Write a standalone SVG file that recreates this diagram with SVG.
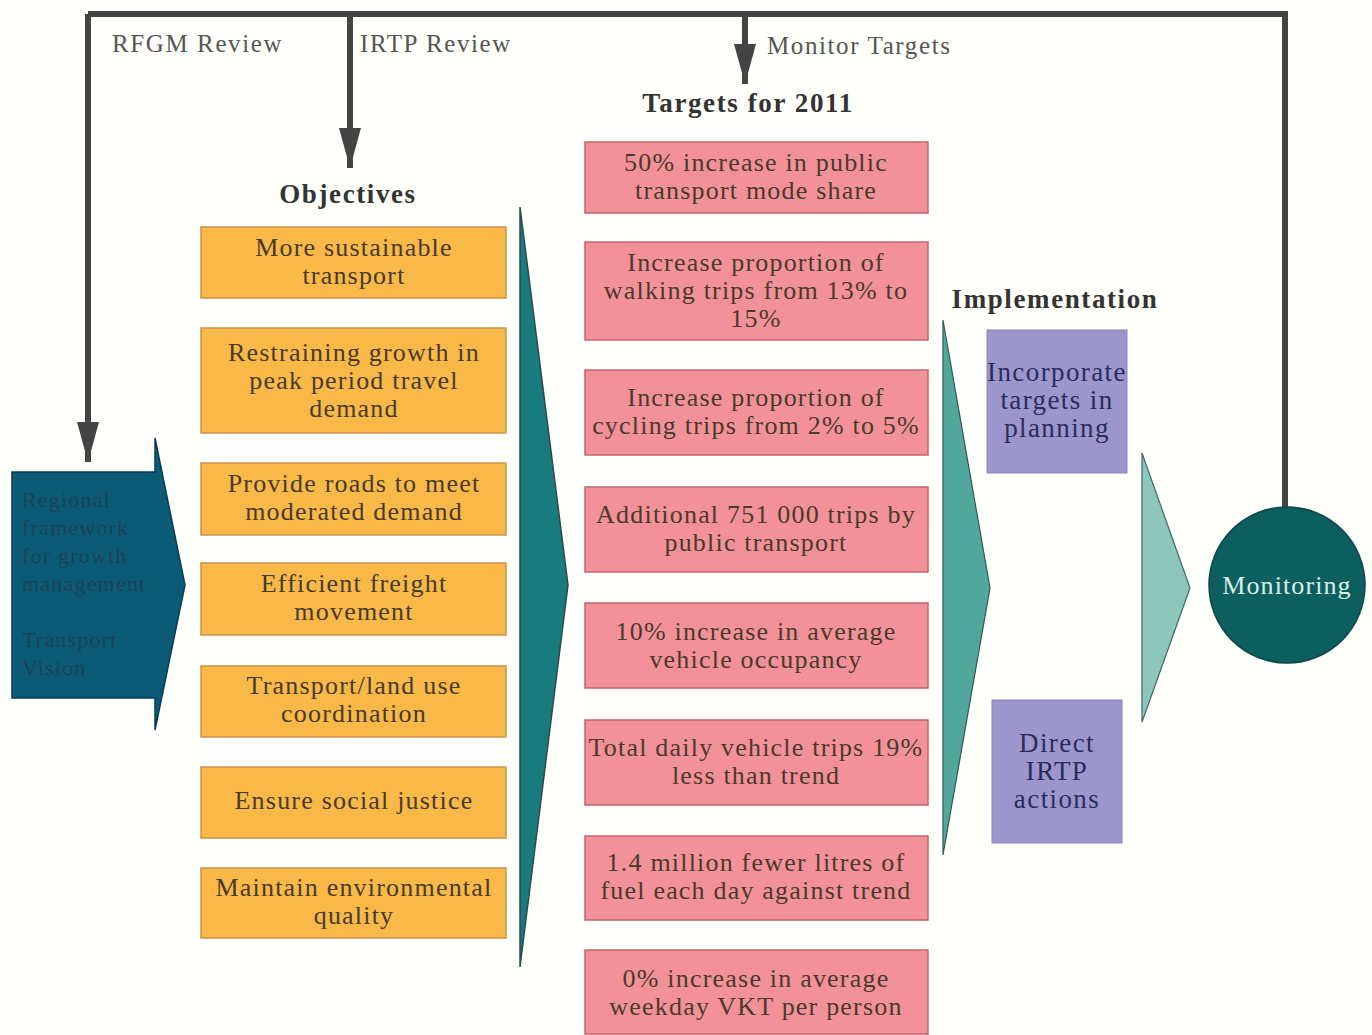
<svg xmlns="http://www.w3.org/2000/svg" width="1372" height="1035" viewBox="0 0 1372 1035">
<defs>
<style>
text{font-family:"Liberation Serif","DejaVu Serif",serif;}
.lbl{font-size:25px;fill:#555;letter-spacing:1.6px;}
.hd{font-size:27px;font-weight:bold;fill:#333;text-anchor:middle;letter-spacing:1.6px;}
.t{font-size:26px;fill:#4a3a2a;text-anchor:middle;letter-spacing:1.2px;}
.obj{fill:#f8b948;stroke:#c9924c;stroke-width:1.5;}
.tgt{fill:#f3919a;stroke:#c4646f;stroke-width:1.5;}
.imp{fill:#9c96cc;stroke:#8a84b8;stroke-width:1;}
.it{font-size:27px;fill:#2c2c5c;text-anchor:middle;letter-spacing:1.4px;}
.pt{font-size:22px;fill:#1b4356;letter-spacing:1.2px;}
.ln{fill:none;stroke:#444;stroke-width:6;}
</style>
<marker id="ah" viewBox="0 0 40 22" refX="40" refY="11" markerWidth="40" markerHeight="22" markerUnits="userSpaceOnUse" orient="auto">
<path d="M0,0 L40,11 L0,22 z" fill="#444"/>
</marker>
</defs>
<rect width="1372" height="1035" fill="#fffffb"/>

<g id="connectors">
<path class="ln" d="M88,14 H1285 V507"/>
<path class="ln" d="M88,14 V462" marker-end="url(#ah)"/>
<path class="ln" d="M350,14 V168" marker-end="url(#ah)"/>
<path class="ln" d="M745,14 V84" marker-end="url(#ah)"/>
</g>

<g id="labels">
<text class="lbl" x="112" y="52">RFGM Review</text>
<text class="lbl" x="360" y="52">IRTP Review</text>
<text class="lbl" x="767" y="54">Monitor Targets</text>
<text class="hd" x="348" y="203">Objectives</text>
<text class="hd" x="748" y="112">Targets for 2011</text>
<text class="hd" x="1055" y="308">Implementation</text>
</g>

<g id="rfgm">
<path d="M12,472 H155 V438 L185,585 L155,730 V698 H12 Z" fill="#0b5b76" stroke="#073d50" stroke-width="1.5"/>
<text class="pt" x="22" y="507">Regional</text>
<text class="pt" x="22" y="535">framework</text>
<text class="pt" x="22" y="563">for growth</text>
<text class="pt" x="22" y="591">management</text>
<text class="pt" x="22" y="647">Transport</text>
<text class="pt" x="22" y="675">Vision</text>
</g>

<g id="objectives">
<g id="obj1"><rect class="obj" x="201" y="227" width="305" height="71"/><text class="t" x="354" y="256">More sustainable</text><text class="t" x="354" y="284">transport</text></g>
<g id="obj2"><rect class="obj" x="201" y="328" width="305" height="105"/><text class="t" x="354" y="361">Restraining growth in</text><text class="t" x="354" y="389">peak period travel</text><text class="t" x="354" y="417">demand</text></g>
<g id="obj3"><rect class="obj" x="201" y="463" width="305" height="72"/><text class="t" x="354" y="492">Provide roads to meet</text><text class="t" x="354" y="520">moderated demand</text></g>
<g id="obj4"><rect class="obj" x="201" y="563" width="305" height="72"/><text class="t" x="354" y="592">Efficient freight</text><text class="t" x="354" y="620">movement</text></g>
<g id="obj5"><rect class="obj" x="201" y="666" width="305" height="71"/><text class="t" x="354" y="694">Transport/land use</text><text class="t" x="354" y="722">coordination</text></g>
<g id="obj6"><rect class="obj" x="201" y="767" width="305" height="71"/><text class="t" x="354" y="809">Ensure social justice</text></g>
<g id="obj7"><rect class="obj" x="201" y="868" width="305" height="70"/><text class="t" x="354" y="896">Maintain environmental</text><text class="t" x="354" y="924">quality</text></g>
</g>

<g id="arrow1"><path d="M520,207 L568,585 L520,967 Z" fill="#177b80" stroke="#2e4a4a" stroke-width="1.5"/></g>

<g id="targets">
<g id="tg1"><rect class="tgt" x="585" y="142" width="343" height="71"/><text class="t" x="756" y="171">50% increase in public</text><text class="t" x="756" y="199">transport mode share</text></g>
<g id="tg2"><rect class="tgt" x="585" y="242" width="343" height="98"/><text class="t" x="756" y="271">Increase proportion of</text><text class="t" x="756" y="299">walking trips from 13% to</text><text class="t" x="756" y="327">15%</text></g>
<g id="tg3"><rect class="tgt" x="585" y="370" width="343" height="85"/><text class="t" x="756" y="406">Increase proportion of</text><text class="t" x="756" y="434">cycling trips from 2% to 5%</text></g>
<g id="tg4"><rect class="tgt" x="585" y="487" width="343" height="85"/><text class="t" x="756" y="523">Additional 751 000 trips by</text><text class="t" x="756" y="551">public transport</text></g>
<g id="tg5"><rect class="tgt" x="585" y="603" width="343" height="85"/><text class="t" x="756" y="640">10% increase in average</text><text class="t" x="756" y="668">vehicle occupancy</text></g>
<g id="tg6"><rect class="tgt" x="585" y="720" width="343" height="85"/><text class="t" x="756" y="756">Total daily vehicle trips 19%</text><text class="t" x="756" y="784">less than trend</text></g>
<g id="tg7"><rect class="tgt" x="585" y="836" width="343" height="84"/><text class="t" x="756" y="871">1.4 million fewer litres of</text><text class="t" x="756" y="899">fuel each day against trend</text></g>
<g id="tg8"><rect class="tgt" x="585" y="950" width="343" height="84"/><text class="t" x="756" y="987">0% increase in average</text><text class="t" x="756" y="1015">weekday VKT per person</text></g>
</g>

<g id="arrow2"><path d="M943,320 L990,588 L943,855 Z" fill="#52a79c" stroke="#2e5a55" stroke-width="1.2"/></g>

<g id="implementation">
<g id="imp1"><rect class="imp" x="987" y="330" width="140" height="143"/><text class="it" x="1057" y="381">Incorporate</text><text class="it" x="1057" y="409">targets in</text><text class="it" x="1057" y="437">planning</text></g>
<g id="imp2"><rect class="imp" x="992" y="700" width="130" height="143"/><text class="it" x="1057" y="752">Direct</text><text class="it" x="1057" y="780">IRTP</text><text class="it" x="1057" y="808">actions</text></g>
</g>

<g id="arrow3"><path d="M1142,453 L1190,588 L1142,722 Z" fill="#8cc5b9" stroke="#3e6a62" stroke-width="1.2"/></g>

<g id="monitoring">
<circle cx="1287" cy="585" r="78" fill="#0d5e5e" stroke="#0a4848" stroke-width="1.5"/>
<text x="1287" y="594" style="font-size:26px;fill:#d8eee8;text-anchor:middle;letter-spacing:1.1px">Monitoring</text>
</g>
</svg>
